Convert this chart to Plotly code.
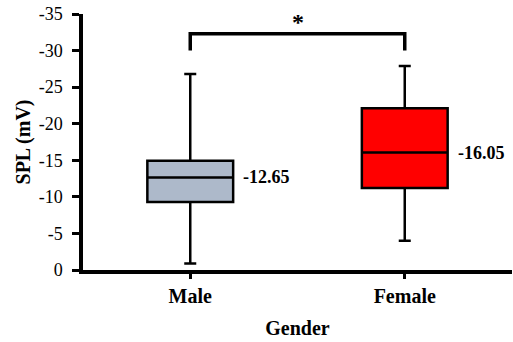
import plotly.graph_objects as go

categories = ["Male", "Female"]
whisker_low = [-26.8, -27.9]   # most negative (drawn at top)
box_low = [-14.95, -22.1]
medians = [-12.65, -16.05]
box_high = [-9.3, -11.2]
whisker_high = [-0.9, -4.0]    # least negative (drawn at bottom)
fills = ["#ADB9CA", "#FF0000"]
median_labels = ["-12.65", "-16.05"]
ytick_vals = [0, -5, -10, -15, -20, -25, -30, -35]
ytick_text = ["0", "-5", "-10", "-15", "-20", "-25", "-30", "-35"]
bracket_base = -30.0
bracket_top = -32.3
star_y = -33.3

FONT = "Liberation Serif, Times New Roman, serif"

fig = go.Figure()
for i, cat in enumerate(categories):
    fig.add_trace(go.Box(
        x=[i], q1=[box_low[i]], median=[medians[i]], q3=[box_high[i]],
        lowerfence=[whisker_low[i]], upperfence=[whisker_high[i]],
        width=0.4, whiskerwidth=0.14, fillcolor=fills[i],
        line=dict(color="black", width=2.5), boxpoints=False,
        showlegend=False, hoverinfo="skip", name=cat,
    ))
    fig.add_annotation(x=i + 0.2, y=medians[i], text="<b>%s</b>" % median_labels[i],
                       showarrow=False, xanchor="left", xshift=8,
                       font=dict(family=FONT, size=18, color="black"))

fig.add_shape(type="path",
              path="M 0,%g L 0,%g L 1,%g L 1,%g" % (bracket_base, bracket_top, bracket_top, bracket_base),
              line=dict(color="black", width=3.5))
fig.add_annotation(x=0.5, y=star_y, text="<b>*</b>", showarrow=False, yshift=4,
                   font=dict(family=FONT, size=24, color="black"))

fig.update_layout(
    width=513, height=342,
    margin=dict(l=83, r=1, t=14, b=72),
    paper_bgcolor="white", plot_bgcolor="white",
    font=dict(family=FONT, color="black"),
    xaxis=dict(
        range=[-0.5, 1.5], tickvals=[0, 1], ticktext=["<b>%s</b>" % c for c in categories],
        showline=True, linecolor="black", linewidth=3.5, ticks="outside", ticklen=5,
        tickwidth=3, tickcolor="black", showgrid=False, zeroline=False, automargin=False,
        tickfont=dict(family=FONT, size=20),
        title=dict(text="<b>Gender</b>", font=dict(family=FONT, size=20), standoff=16),
    ),
    yaxis=dict(
        range=[0, -35], tickvals=ytick_vals, ticktext=ytick_text,
        showline=True, linecolor="black", linewidth=3.5, ticks="outside", ticklen=7,
        tickwidth=3, tickcolor="black", showgrid=False, zeroline=False, automargin=False,
        tickfont=dict(family=FONT, size=18), ticklabelstandoff=6,
        title=dict(text="<b>SPL (mV)</b>", font=dict(family=FONT, size=20), standoff=4),
    ),
)

fig.write_html("out.html", config={"displayModeBar": False},
               post_script="document.body.style.margin='0';document.body.style.overflow='hidden';")
